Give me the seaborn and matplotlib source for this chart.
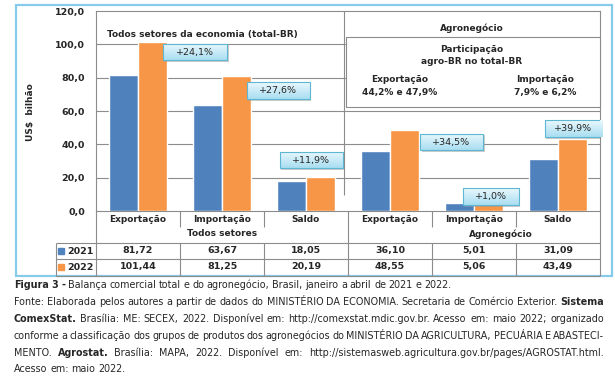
import numpy as np
import pandas as pd
import matplotlib
matplotlib.use("Agg")
import matplotlib.pyplot as plt
import matplotlib.patheffects as pe
from matplotlib.patches import Rectangle
from matplotlib.colors import LinearSegmentedColormap
import seaborn as sns

# data (US$ bilhão, janeiro a abril)
categories = ["Exportação", "Importação", "Saldo", "Exportação", "Importação", "Saldo"]
sectors = ["Todos setores"] * 3 + ["Agronegócio"] * 3
years = ["2021", "2022"]
values_2021 = [81.72, 63.67, 18.05, 36.10, 5.01, 31.09]
values_2022 = [101.44, 81.25, 20.19, 48.55, 5.06, 43.49]
yticks = [0, 20, 40, 60, 80, 100, 120]

# layout of the growth boxes (x offset from group centre, y centre, width in groups)
label_dx = [0.68, 0.67, 0.06, 0.73, 0.20, 0.18]
label_y = [95.4, 72.3, 30.6, 41.4, 8.7, 49.5]
label_w = [0.77, 0.75, 0.75, 0.75, 0.66, 0.68]

blue = "#4F81BD"
orange = "#F79646"
grid_c = "#8C8C8C"
fs = 6.5
cap_fs = 6.95

sns.set_style("white")
plt.rcParams["font.family"] = ["DejaVu Sans"]

groups = [f"{s}|{c}" for s, c in zip(sectors, categories)]
df = pd.DataFrame({
    "grupo": groups * 2,
    "ano": [years[0]] * 6 + [years[1]] * 6,
    "valor": values_2021 + values_2022,
})

fig = plt.figure(figsize=(6.15, 3.76), dpi=100)
ax = fig.add_axes([96 / 615, (376 - 211) / 376, 504 / 615, 200 / 376])

sns.barplot(data=df, x="grupo", y="valor", hue="ano", order=groups,
            palette=[blue, orange], width=0.69, saturation=1,
            legend=False, ax=ax, zorder=3)
ax.set_xticks([])
ax.set_xlabel("")
ax.set_ylabel("")
ax.tick_params(axis="y", length=0, pad=8)
for s in ax.spines.values():
    s.set_color(grid_c)
    s.set_linewidth(0.8)
for v in yticks[1:-1]:
    ax.axhline(v, color=grid_c, lw=0.8, zorder=1)

# growth boxes with a light gradient
grad = LinearSegmentedColormap.from_list("box", ["#A9DEF1", "#EAF8FD"])
for i in range(6):
    pct = (values_2022[i] / values_2021[i] - 1) * 100
    txt = f"+{pct:.1f}%".replace(".", ",")
    w = label_w[i]
    h = 10.0
    cx = i + label_dx[i]
    cy = label_y[i]
    shadow = Rectangle((cx - w / 2 + 0.02, cy - h / 2 - 1.0), w, h, facecolor="#9A9A9A",
                       alpha=0.5, lw=0, zorder=5)
    ax.add_patch(shadow)
    rect = Rectangle((cx - w / 2, cy - h / 2), w, h, facecolor="none",
                     edgecolor="#5DB7D3", lw=0.8, zorder=7)
    ax.add_patch(rect)
    im = ax.imshow(np.linspace(0, 1, 32).reshape(-1, 1), cmap=grad, origin="lower",
                   extent=(cx - w / 2, cx + w / 2, cy - h / 2, cy + h / 2),
                   aspect="auto", zorder=6)
    im.set_clip_path(rect)
    ax.text(cx, cy, txt, ha="center", va="center", fontsize=fs + 0.3, zorder=8)

ax.set_xlim(-0.5, 5.5)
ax.set_ylim(0, 120)
ax.set_yticks(yticks)
ax.set_yticklabels([f"{v:.1f}".replace(".", ",") for v in yticks],
                   fontsize=fs + 0.3, fontweight="bold")

# overlay in figure pixels for table, boxes and caption
ov = fig.add_axes([0, 0, 1, 1], zorder=5)
ov.set_xlim(0, 615)
ov.set_ylim(376, 0)
ov.axis("off")
ov.patch.set_alpha(0)

def line(x0, y0, x1, y1, c=grid_c, lw=0.8):
    ov.plot([x0, x1], [y0, y1], color=c, lw=lw, solid_capstyle="butt")

# outer frame
ov.add_patch(Rectangle((16, 5), 596, 271, fill=False, edgecolor="#86CBEA", lw=1.6))

ov.text(107, 34, "Todos setores da economia (total-BR)", fontsize=fs,
        fontweight="bold", va="center", ha="left")

# agronegocio panel
line(344, 11, 344, 195)
ov.add_patch(Rectangle((346, 37), 254, 70, facecolor="white", edgecolor=grid_c, lw=0.8, zorder=2))
ov.text(472, 28, "Agronegócio", fontsize=fs, fontweight="bold", ha="center", va="center")
ov.text(472, 49, "Participação", fontsize=fs, fontweight="bold", ha="center", va="center", zorder=3)
ov.text(472, 62, "agro-BR no total-BR", fontsize=fs, fontweight="bold", ha="center", va="center", zorder=3)
ov.text(400, 79, "Exportação", fontsize=fs, fontweight="bold", ha="center", va="center", zorder=3)
ov.text(400, 92, "44,2% e 47,9%", fontsize=fs, fontweight="bold", ha="center", va="center", zorder=3)
ov.text(545, 79, "Importação", fontsize=fs, fontweight="bold", ha="center", va="center", zorder=3)
ov.text(545, 92, "7,9% e 6,2%", fontsize=fs, fontweight="bold", ha="center", va="center", zorder=3)

ov.text(30, 112, "US$  bilhão", fontsize=fs, fontweight="bold", rotation=90,
        ha="center", va="center")

# table under the axis
gw = 84
edges = [96 + gw * k for k in range(7)]
line(96, 211, 96, 276)
line(600, 211, 600, 276)
line(56, 243, 600, 243)
line(56, 259, 600, 259)
line(56, 276, 600, 276)
line(56, 243, 56, 276)
for k, x in enumerate(edges[1:-1], start=1):
    if k == 3:
        line(x, 211, x, 276)
    else:
        line(x, 211, x, 227)
        line(x, 243, x, 276)
for i in range(6):
    cx = 96 + gw * (i + 0.5)
    ov.text(cx, 220, categories[i], fontsize=fs, fontweight="bold", ha="center", va="center")
    ov.text(cx, 251, f"{values_2021[i]:.2f}".replace(".", ","), fontsize=fs + 0.3,
            fontweight="bold", ha="center", va="center")
    ov.text(cx, 267, f"{values_2022[i]:.2f}".replace(".", ","), fontsize=fs + 0.3,
            fontweight="bold", ha="center", va="center")
ov.text(222, 234, sectors[0], fontsize=fs, fontweight="bold", ha="center", va="center")
ov.text(501, 234, sectors[3], fontsize=fs, fontweight="bold", ha="center", va="center")
for yy, yr, c in [(251, years[0], blue), (267, years[1], orange)]:
    ov.add_patch(Rectangle((58, yy - 3), 6, 6, color=c))
    ov.text(67, yy, yr, fontsize=fs + 0.3, fontweight="bold", ha="left", va="center")

# caption, justified by hand
renderer = fig.canvas.get_renderer()

def caption(segments, y, x0=14, x1=None):
    words = []
    for seg, bold in segments:
        for w in seg.split(" "):
            words.append(ov.text(0, y, w, fontsize=cap_fs, va="center", ha="left",
                                 fontweight="bold" if bold else "normal"))
    widths = [t.get_window_extent(renderer).width for t in words]
    if x1 is None:
        gap = 2.7
    else:
        gap = (x1 - x0 - sum(widths)) / (len(words) - 1)
    x = x0
    for t, w in zip(words, widths):
        t.set_x(x)
        x += w + gap

caption([("Figura 3 -", True),
         ("Balança comercial total e do agronegócio, Brasil, janeiro a abril de 2021 e 2022.", False)], 285)
caption([("Fonte: Elaborada pelos autores a partir de dados do MINISTÉRIO DA ECONOMIA. Secretaria de Comércio Exterior.", False),
         ("Sistema", True)], 302, x1=604)
caption([("ComexStat.", True),
         ("Brasília: ME: SECEX, 2022. Disponível em: http://comexstat.mdic.gov.br. Acesso em: maio 2022; organizado", False)],
        319, x1=604)
caption([("conforme a classificação dos grupos de produtos dos agronegócios do MINISTÉRIO DA AGRICULTURA, PECUÁRIA E ABASTECI-", False)],
        336, x1=604)
caption([("MENTO.", False), ("Agrostat.", True),
         ("Brasília: MAPA, 2022. Disponível em: http://sistemasweb.agricultura.gov.br/pages/AGROSTAT.html.", False)],
        353, x1=604)
caption([("Acesso em: maio 2022.", False)], 369)

fig.savefig("out.png", dpi=100)
